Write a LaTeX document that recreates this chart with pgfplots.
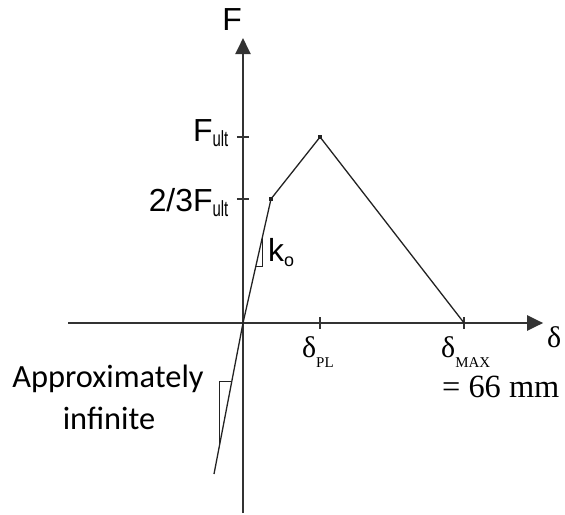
\documentclass[border=0pt]{standalone}
\usepackage{pgfplots}
\pgfplotsset{compat=1.18}
\usepackage{fontspec}
\setmainfont{Liberation Serif}
\newfontfamily\arial{Liberation Sans}
\newfontfamily\calibri{Carlito}
\usetikzlibrary{arrows.meta}
\definecolor{axisgray}{HTML}{333333}
\definecolor{curvegray}{HTML}{222222}

% force-displacement labels
\newcommand{\fult}{{\arial\fontsize{32}{32}\selectfont F\raisebox{-5bp}{\scalebox{0.68}[1]{\fontsize{22}{22}\selectfont ult}}}}
\newcommand{\dsub}[1]{{\fontsize{30}{30}\selectfont δ\raisebox{-10bp}{\fontsize{15}{15}\selectfont #1}}}

\begin{document}
\begin{tikzpicture}
\begin{axis}[
  scale only axis,
  width=565bp, height=513bp,
  xmin=-72.54, xmax=96.12,
  ymin=-1.0215, ymax=1.7366,
  hide axis,
  clip=false,
]
% canvas extent
\path (axis cs:-72.54,-1.0215) rectangle (axis cs:96.12,1.7366);

% axes
\draw[axisgray, line width=2.2bp, -{Triangle[length=16bp,width=15bp]}]
  (axis cs:-52.2,0) -- (axis cs:89.6,0);
\draw[axisgray, line width=2.2bp, -{Triangle[length=16bp,width=15bp]}]
  (axis cs:0,-1.0215) -- (axis cs:0,1.532);

% ticks
\draw[axisgray, line width=1.3bp] (axis cs:-1.8,1) -- (axis cs:1.8,1);
\draw[axisgray, line width=1.3bp] (axis cs:-1.8,0.667) -- (axis cs:1.8,0.667);
\draw[axisgray, line width=1.3bp] (axis cs:23,-0.032) -- (axis cs:23,0.032);
\draw[axisgray, line width=1.3bp] (axis cs:66,-0.032) -- (axis cs:66,0.032);

% force-displacement curve
\addplot[curvegray, line width=1.3bp] coordinates {
  (-8.66,-0.812) (0,0) (8.36,0.667) (23,1) (66,0)
};
\addplot[curvegray, only marks, mark=square*, mark size=1.4bp] coordinates {
  (8.36,0.667) (23,1)
};

% stiffness triangles
\addplot[curvegray, line width=1bp] coordinates {
  (5.7,0.458) (5.7,0.305) (3.79,0.305)
};
\addplot[curvegray, line width=1bp] coordinates {
  (-3.37,-0.316) (-6.87,-0.316) (-6.87,-0.644)
};

% labels
\node[anchor=base, inner sep=0] at (axis cs:-3.28,1.570) {\arial\fontsize{32}{32}\selectfont F};
\node[anchor=base east, inner sep=0] at (axis cs:-4.33,0.975) {\fult};
\node[anchor=base east, inner sep=0] at (axis cs:-4.33,0.598) {{\arial\fontsize{32}{32}\selectfont 2/3}\fult};
\node[anchor=base west, inner sep=0] at (axis cs:7.46,0.333) {\arial\fontsize{32}{32}\selectfont k\raisebox{-5bp}{\fontsize{18}{18}\selectfont o}};
\node[anchor=base west, inner sep=0] at (axis cs:17.6,-0.183) {\dsub{PL}};
\node[anchor=base west, inner sep=0] at (axis cs:59.1,-0.183) {\dsub{MAX}};
\node[anchor=base west, inner sep=0] at (axis cs:59.4,-0.398) {\fontsize{32.5}{32.5}\selectfont = 66 mm};
\node[anchor=base west, inner sep=0] at (axis cs:90.7,-0.134) {\fontsize{30}{30}\selectfont δ};
\node[anchor=base, inner sep=0] at (axis cs:-40.3,-0.349) {\calibri\fontsize{32.5}{32.5}\selectfont Approximately};
\node[anchor=base, inner sep=0] at (axis cs:-40.0,-0.575) {\calibri\fontsize{32.5}{32.5}\selectfont infinite};
\end{axis}
\end{tikzpicture}
\end{document}
